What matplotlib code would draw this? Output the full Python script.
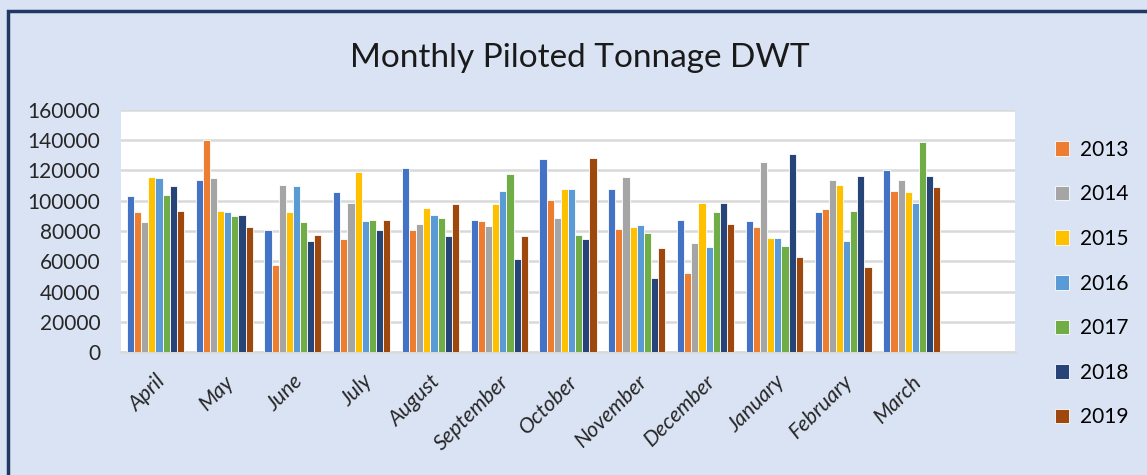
import numpy as np
import matplotlib
matplotlib.use("Agg")
import matplotlib.pyplot as plt
from matplotlib.patches import Rectangle

# month order of the financial year, last slot left empty like in the sheet
months = ["April", "May", "June", "July", "August", "September", "October",
          "November", "December", "January", "February", "March", ""]

years = ["2012", "2013", "2014", "2015", "2016", "2017", "2018", "2019"]

# values per year, one per month
v2012 = [103000, 114000, 80500, 105500, 121700, 87500, 127700, 108000, 87500, 86600, 92600, 120000]
v2013 = [92600, 140000, 57500, 74600, 80600, 86600, 100300, 81500, 52400, 82400, 94400, 106300]
v2014 = [85700, 114800, 110600, 98800, 84800, 83300, 88400, 115700, 72200, 125900, 113900, 113900]
v2015 = [115700, 93500, 92600, 119200, 95200, 97700, 107900, 82400, 98600, 75500, 110600, 105500]
v2016 = [115000, 92600, 109700, 86600, 90800, 106300, 107900, 83900, 69500, 75500, 73700, 98600]
v2017 = [103700, 90000, 85700, 87500, 88400, 117400, 77300, 78800, 92600, 70400, 93500, 138800]
v2018 = [109700, 90800, 73700, 80600, 76400, 61700, 74600, 48800, 98600, 131200, 116600, 116600]
v2019 = [93500, 82400, 77300, 87500, 97700, 76400, 128500, 68600, 84800, 62600, 55900, 108800]
series = [v2012, v2013, v2014, v2015, v2016, v2017, v2018, v2019]

colors = ["#4472C4", "#ED7D31", "#A5A5A5", "#FFC000",
          "#5B9BD5", "#70AD47", "#264478", "#9E480E"]

bg = "#DAE3F3"
font = "Lato"

fig = plt.figure(figsize=(11.47, 4.75), dpi=100, facecolor=bg)
ax = fig.add_axes([121 / 1147, 1 - 352 / 475, (1015 - 121) / 1147, (352 - 110) / 475])
ax.set_facecolor("white")

# dark frame round the chart area
fig.patches.append(Rectangle((8 / 1147, -0.05), 1.2, 1.05 - 11 / 475, transform=fig.transFigure,
                             fill=False, edgecolor="#1F3864", linewidth=2.5, zorder=10))

x = np.arange(len(months))
n = len(series)
w = 0.83 / n
for i, (yr, vals, c) in enumerate(zip(years, series, colors)):
    pos = x[:len(vals)] - 0.415 + w * (i + 0.5)
    lab = yr if i > 0 else "_nolegend_"  # first series has no legend entry
    ax.bar(pos, vals, width=w, color=c, edgecolor="white", linewidth=0.6, label=lab, zorder=3)

ax.set_xlim(-0.5, len(months) - 0.5)
ax.set_ylim(0, 160000)
ax.set_yticks(np.arange(0, 160001, 20000))
ax.yaxis.grid(True, color="#D9D9D9", linewidth=1.8, zorder=0)
ax.set_axisbelow(True)
for s in ["top", "right", "left"]:
    ax.spines[s].set_visible(False)
ax.spines["bottom"].set_color("#D9D9D9")
ax.spines["bottom"].set_linewidth(1.8)
ax.tick_params(axis="both", length=0, labelcolor="#262626")
ax.tick_params(axis="y", pad=15, labelsize=15)
for t in ax.get_yticklabels():
    t.set_fontfamily(font)

ax.set_xticks(x)
ax.set_xticklabels(months, rotation=45, ha="right", rotation_mode="anchor",
                   fontstyle="italic", fontfamily=font, fontsize=15.5)
ax.tick_params(axis="x", pad=14)

fig.text(580 / 1147, 1 - 58 / 475, "Monthly Piloted Tonnage DWT", ha="center", va="center",
         fontsize=24, fontfamily=font, color="#1a1a1a")

leg = ax.legend(loc="upper left", bbox_to_anchor=(1036 / 1147, 1 - 121 / 475),
                bbox_transform=fig.transFigure, frameon=False,
                handlelength=0.7, handleheight=0.7, handletextpad=0.5, labelspacing=1.18,
                prop={"family": font, "size": 15})

fig.savefig("out.png", dpi=100, facecolor=bg)
